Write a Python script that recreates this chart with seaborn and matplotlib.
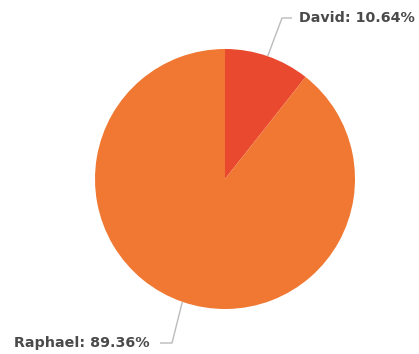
import matplotlib
matplotlib.use("Agg")
import matplotlib.pyplot as plt
import seaborn as sns
import numpy as np

# Share of total by person
names = ["David", "Raphael"]
shares = [10.64, 89.36]
colors = ["#E9492F", "#F07832"]

sns.set_theme(style="white")
plt.rcParams['font.family'] = ['DejaVu Sans']

fig = plt.figure(figsize=(4.19, 3.54), dpi=100)
ax = fig.add_axes([0, 0, 1, 1])

cx, cy, r = 225, 175, 130
wedges, _ = ax.pie(shares, colors=colors, startangle=90, counterclock=False,
                   center=(cx, cy), radius=r, frame=True,
                   wedgeprops=dict(linewidth=0))
ax.set_xlim(0, 419)
ax.set_ylim(0, 354)
ax.set_aspect("equal")
ax.axis("off")

# leader lines + labels
layout = {
    "David": dict(elbow=(282, 336), end=(292, 336), text=(299, 336), ha="left"),
    "Raphael": dict(elbow=(172, 11), end=(160, 11), text=(150, 11), ha="right"),
}
for w, name, val in zip(wedges, names, shares):
    mid = np.deg2rad((w.theta1 + w.theta2) / 2)
    px, py = cx + r * np.cos(mid), cy + r * np.sin(mid)
    L = layout[name]
    ax.plot([px, L["elbow"][0], L["end"][0]], [py, L["elbow"][1], L["end"][1]],
            color="#bbbbbb", lw=1, solid_capstyle="butt")
    ax.text(L["text"][0], L["text"][1], f"{name}: {val:.2f}%", ha=L["ha"],
            va="center", fontsize=10.3, fontweight="bold", color="#4a4a4a")

fig.savefig("out.png", dpi=100)
